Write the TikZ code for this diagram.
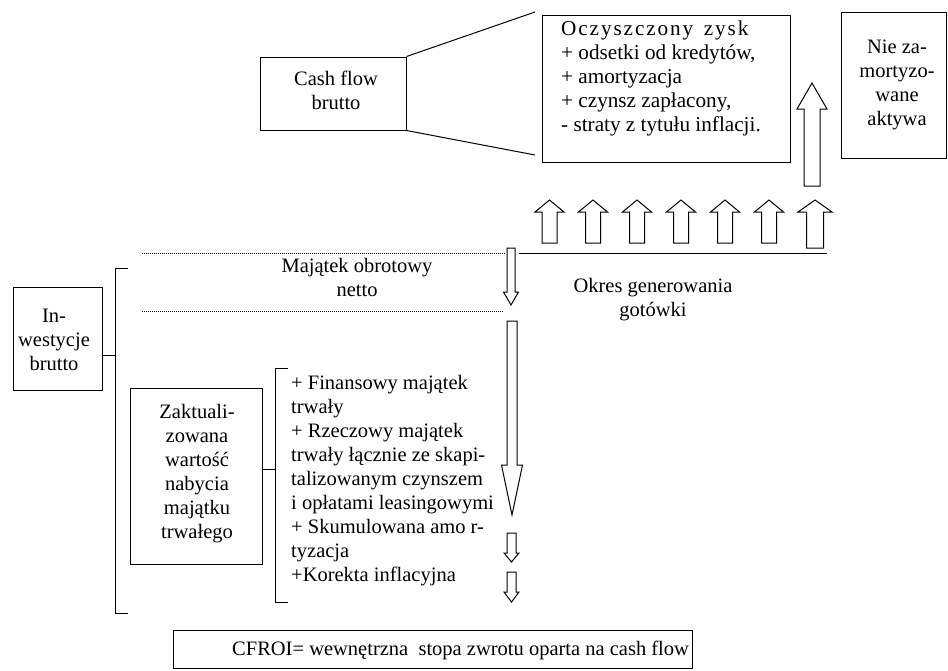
\documentclass[tikz,border=0pt]{standalone}
\usepackage{fontspec}
\setmainfont{Liberation Serif}
\newcommand{\blkarr}[6]{% centre x, tip y, head-base y, tail y, half shaft, half head
  \draw[arr] (#1-#5,#4) -- (#1-#5,#3) -- (#1-#6,#3) -- (#1,#2) -- (#1+#6,#3) -- (#1+#5,#3) -- (#1+#5,#4) -- cycle;}
\begin{document}
\begin{tikzpicture}[x=1pt,y=-1pt,
  txt/.style={font=\fontsize{20.5}{24}\selectfont, inner sep=0pt},
  box/.style={draw, line width=1pt, inner sep=0pt},
  ln/.style={line width=1pt},
  dots/.style={line width=0.9pt, dash pattern=on 1pt off 1pt},
  arr/.style={draw, line width=1pt, fill=white, line join=miter}]
\fill[white] (0,0) rectangle (948,670);
\useasboundingbox (0,0) rectangle (948,670);

% boxes
\node[box, minimum width=146pt, minimum height=73pt] (cf) at (333,93.5) {};
\node[txt, align=center] (cft) at (336,90) {Cash flow\\brutto};
\node[box, minimum width=248pt, minimum height=147pt] (ocz) at (666,88.5) {};
\node[txt, font=\fontsize{21.2}{24.2}\selectfont, align=left, anchor=west] (oczt) at (561,78.5) {{\addfontfeature{LetterSpace=9}Oczyszczony}~ {\addfontfeature{LetterSpace=9}zysk}\\+ odsetki od kredytów,\\+ amortyzacja\\+ czynsz zapłacony,\\- straty z tytułu inflacji.};
\node[box, minimum width=105pt, minimum height=146pt] (nie) at (893.5,85) {};
\node[txt, align=center] (niet) at (897,85) {Nie za-\\mortyzo-\\wane\\aktywa};
\node[box, minimum width=89pt, minimum height=103pt] (inw) at (57.5,338.5) {};
\node[txt, align=center] (inwt) at (54,340) {In-\\westycje\\brutto};
\node[box, minimum width=132pt, minimum height=176pt] (zak) at (196,476) {};
\node[txt, align=center] (zakt) at (197,473.5) {Zaktuali-\\zowana\\wartość\\nabycia\\majątku\\trwałego};
\node[box, minimum width=519pt, minimum height=38pt] (cfroi) at (432.5,649) {};
\node[txt, anchor=west] (cfroit) at (232,650) {CFROI= wewnętrzna~ stopa zwrotu oparta na cash flow};

% fan lines
\coordinate (fa) at (535,12);
\coordinate (fb) at (535,155);
\draw[ln] (cf.north east) -- (fa);
\draw[ln] (cf.south east) -- (fb);

% texts
\node[txt, align=center] (maj) at (357,277) {Majątek obrotowy\\netto};
\node[txt, align=center] (okr) at (653,300) {Okres generowania\\gotówki};
\node[txt, align=left, anchor=west] (lst) at (291,481) {+ Finansowy majątek\\trwały\\+ Rzeczowy majątek\\trwały łącznie ze skapi-\\talizowanym czynszem\\i opłatami leasingowymi\\+ Skumulowana amo r-\\tyzacja\\+Korekta inflacyjna};

% horizontal lines
\coordinate (d1a) at (142,253); \coordinate (d1b) at (505,253);
\coordinate (d2a) at (142,311); \coordinate (d2b) at (503,311);
\coordinate (sa) at (519,253); \coordinate (sb) at (827,253);
\draw[dots] (d1a) -- (d1b);
\draw[dots] (d2a) -- (d2b);
\draw[ln] (sa) -- (sb);

% big bracket
\coordinate (bt) at (128,268); \coordinate (bb) at (128,613);
\draw[ln] (bt) -- (115,268) -- (115,613) -- (bb);
\draw[ln] ([yshift=-16.5pt]inw.east) -- ++(13,0);
% small bracket
\coordinate (st) at (288,368); \coordinate (sbb) at (288,602);
\draw[ln] (st) -- (275,368) -- (275,602) -- (sbb);
\draw[ln] ([yshift=7pt]zak.east) -- ++(13,0);

% up arrows
\foreach \c in {549.5,593,637,681,725,769}{\blkarr{\c}{200}{212}{243}{7.5}{14.5}}
\blkarr{815}{200}{212}{248}{8.5}{17}
\blkarr{812}{83}{109}{186}{8}{15}

% down arrows
\blkarr{511}{305}{292}{248}{4}{7.5}
\blkarr{512}{515}{465}{321}{5}{10.5}
\blkarr{511.5}{562}{553}{533}{4.5}{7.5}
\blkarr{511.5}{602}{592}{572}{4.5}{7.5}
\end{tikzpicture}
\end{document}
